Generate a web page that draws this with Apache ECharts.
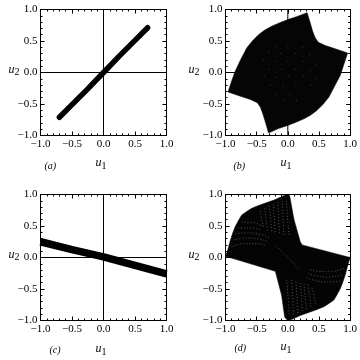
<!DOCTYPE html>
<html><head><meta charset="utf-8">
<style>html,body{margin:0;padding:0;background:#fff}#c{width:360px;height:360px}</style>
<script src="https://cdn.jsdelivr.net/npm/echarts@6/dist/echarts.min.js"></script>
</head><body><div id="c"></div>
<script>
const tickLabels = [-1.0, -0.5, 0.0, 0.5, 1.0];
const panelLetters = ['(a)', '(b)', '(c)', '(d)'];

const bandA = [[-0.7,-0.71],[-0.5,-0.51],[-0.25,-0.26],[0,0],[0.25,0.26],[0.5,0.51],[0.7,0.71]];
const bandC = [[-1,0.25],[-0.5,0.125],[0,0.01],[0.5,-0.125],[1,-0.26]];

const outlineB = [[-0.96,-0.31],[-0.9,-0.13],[-0.845,0.02],[-0.76,0.2],[-0.66,0.39],[-0.57,0.5],[-0.47,0.6],[-0.37,0.675],[-0.26,0.735],[-0.13,0.79],[0,0.84],[0.15,0.89],
  [0.31,0.95],[0.35,0.82],[0.4,0.65],[0.44,0.55],[0.49,0.48],[0.6,0.43],[0.75,0.38],[0.96,0.31],
  [0.9,0.13],[0.845,-0.04],[0.76,-0.2],[0.66,-0.39],[0.57,-0.5],[0.47,-0.6],[0.37,-0.675],[0.26,-0.735],[0.13,-0.79],[0,-0.84],[-0.15,-0.89],
  [-0.31,-0.96],[-0.35,-0.82],[-0.4,-0.66],[-0.44,-0.55],[-0.49,-0.48],[-0.6,-0.43],[-0.75,-0.38]];
const specksB = [[-0.4,0.2],[-0.3,0.32],[-0.3,0.05],[-0.2,0.42],[-0.2,0.18],[-0.2,-0.08],[-0.12,0.3],[-0.1,0.05],[-0.08,-0.22],
  [0,0.42],[0,0.18],[0.02,-0.06],[0.03,-0.34],[0.12,0.3],[0.12,0.05],[0.13,-0.2],[0.14,-0.45],[0.24,0.4],[0.24,0.18],[0.25,-0.06],
  [0.26,-0.32],[0.35,0.28],[0.36,0.04],[0.37,-0.2],[-0.28,-0.2],[-0.18,-0.35],[-0.38,-0.05],[0.45,0.12],[0.46,-0.1],[-0.05,-0.45]];

const outlineD = [[-1,0.02],[-0.97,0.1],[-0.92,0.28],[-0.88,0.4],[-0.845,0.49],[-0.79,0.59],[-0.74,0.675],[-0.66,0.73],[-0.58,0.78],[-0.47,0.825],[-0.37,0.86],[-0.2,0.92],[-0.05,0.99],[0,1],
  [0.03,0.98],[0.1,0.6],[0.2,0.25],[0.23,0.2],[1,0],
  [0.97,-0.1],[0.92,-0.28],[0.88,-0.4],[0.845,-0.49],[0.79,-0.59],[0.74,-0.675],[0.66,-0.73],[0.58,-0.78],[0.47,-0.825],[0.37,-0.86],[0.2,-0.92],[0.05,-0.99],[0,-1],
  [-0.05,-0.95],[-0.1,-0.6],[-0.2,-0.22]];
const meshD = [
  [[-0.9,0.17],[-0.7,0.22],[-0.5,0.22],[-0.35,0.19]],
  [[-0.87,0.28],[-0.65,0.31],[-0.45,0.29],[-0.32,0.25]],
  [[-0.84,0.38],[-0.62,0.39],[-0.42,0.36],[-0.3,0.32]],
  [[-0.8,0.47],[-0.6,0.47],[-0.42,0.43]],
  [[-0.74,0.56],[-0.55,0.55],[-0.4,0.5]],
  [[-0.44,0.74],[-0.42,0.6],[-0.38,0.46]],
  [[-0.37,0.78],[-0.35,0.62],[-0.32,0.42]],
  [[-0.3,0.82],[-0.28,0.65],[-0.26,0.4]],
  [[-0.23,0.85],[-0.22,0.65],[-0.2,0.38]],
  [[-0.16,0.88],[-0.15,0.68],[-0.13,0.36]],
  [[-0.09,0.9],[-0.08,0.68],[-0.06,0.34]],
  [[-0.02,0.9],[-0.01,0.7],[0.02,0.36]],
  [[-0.18,0.18],[-0.1,0.1],[0,0],[0.1,-0.1],[0.18,-0.18]],
  [[0.9,-0.17],[0.7,-0.22],[0.5,-0.22],[0.35,-0.19]],
  [[0.87,-0.28],[0.65,-0.31],[0.45,-0.29],[0.32,-0.25]],
  [[0.84,-0.38],[0.62,-0.39],[0.42,-0.36],[0.3,-0.32]],
  [[0.44,-0.74],[0.42,-0.6],[0.38,-0.46]],
  [[0.37,-0.78],[0.35,-0.62],[0.32,-0.42]],
  [[0.3,-0.82],[0.28,-0.65],[0.26,-0.4]],
  [[0.23,-0.85],[0.22,-0.65],[0.2,-0.38]],
  [[0.16,-0.88],[0.15,-0.68],[0.13,-0.36]],
  [[0.09,-0.9],[0.08,-0.68],[0.06,-0.34]],
  [[0.02,-0.9],[0.01,-0.7],[-0.02,-0.36]]
];

const FONT = '"Liberation Serif","Times New Roman",serif';
const frames = [
  {left:40.5,top:9.5,letter:4,ux:55,ly:161,uy:157},{left:225.5,top:9.5,letter:8,ux:55,ly:161,uy:157},
  {left:40.5,top:194.5,letter:9,ux:55,ly:345,uy:343},{left:225.5,top:194.5,letter:9,ux:55,ly:343,uy:341}
];
const SIZE = 126;
const grid=[],xAxis=[],yAxis=[],series=[],graphic=[];
function axisBase(i,pos,labels){
  return {type:'value',gridIndex:i,min:-1,max:1,interval:0.5,position:pos,
    axisLine:{onZero:false,lineStyle:{color:'#000',width:1}},
    axisTick:{inside:true,length:4,lineStyle:{color:'#000',width:1}},
    minorTick:{show:true,splitNumber:5,length:2,lineStyle:{color:'#000',width:1}},
    splitLine:{show:false},
    axisLabel:{show:labels,margin:3,color:'#000',fontFamily:FONT,fontSize:11,hideOverlap:false,
      showMinLabel:true,showMaxLabel:true,
      formatter:v=>{const t=tickLabels.find(k=>Math.abs(k-v)<1e-6);return (t<0?'\u2212':'')+Math.abs(t).toFixed(1);}}};
}
const rich={i:{fontFamily:FONT,fontStyle:'italic',fontSize:12,fill:'#000'},s:{fontFamily:FONT,fontSize:10,fill:'#000',padding:[6,0,0,0]}};
frames.forEach((f,i)=>{
  grid.push({left:f.left,top:f.top,width:SIZE,height:SIZE,containLabel:false});
  xAxis.push(axisBase(i,'bottom',true),axisBase(i,'top',false));
  yAxis.push(axisBase(i,'left',true),axisBase(i,'right',false));
  const ax=i*2, ay=i*2;
  series.push({type:'line',xAxisIndex:ax,yAxisIndex:ay,data:[[-1,0],[1,0]],symbol:'none',silent:true,lineStyle:{color:'#000',width:1},z:1});
  series.push({type:'line',xAxisIndex:ax,yAxisIndex:ay,data:[[0,-1],[0,1]],symbol:'none',silent:true,lineStyle:{color:'#000',width:1},z:1});
  const L=f.left;
  graphic.push({type:'text',left:L+f.ux,top:f.uy,style:{text:'{i|u}{s|1}',rich}});
  graphic.push({type:'text',left:i%2?L-37:L-32,top:f.top+54,style:{text:'{i|u}{s|2}',rich}});
  graphic.push({type:'text',left:L+f.letter,top:f.ly,style:{text:panelLetters[i],fontFamily:FONT,fontStyle:'italic',fontSize:10,fill:'#000'}});
});
function polygon(idx,pts,color){
  series.push({type:'custom',xAxisIndex:idx*2,yAxisIndex:idx*2,coordinateSystem:'cartesian2d',silent:true,z:3,
    data:[{value:[0,0]}],encode:{x:0,y:1},clip:true,
    renderItem:(p,api)=>({type:'polygon',shape:{points:pts.map(q=>api.coord(q))},style:{fill:color,stroke:color,lineWidth:0.5}})});
}
series.push({type:'line',xAxisIndex:0,yAxisIndex:0,data:bandA,symbol:'none',z:3,silent:true,lineStyle:{color:'#000',width:5.5,cap:'round'}});
series.push({type:'line',xAxisIndex:4,yAxisIndex:4,data:bandC,symbol:'none',z:3,silent:true,lineStyle:{color:'#000',width:7.5,cap:'butt'}});
polygon(1,outlineB,'#050505');
series.push({type:'scatter',xAxisIndex:2,yAxisIndex:2,data:specksB,symbol:'rect',symbolSize:1,silent:true,z:4,itemStyle:{color:'#4a4a4a'}});
polygon(3,outlineD,'#040404');
meshD.forEach(m=>series.push({type:'line',xAxisIndex:6,yAxisIndex:6,data:m,smooth:true,symbol:'none',silent:true,z:4,
  lineStyle:{color:'#666',width:0.8,type:[1,2]}}));
const chart=echarts.init(document.getElementById('c'),null,{renderer:'canvas'});
chart.setOption({animation:false,backgroundColor:'#fff',grid,xAxis,yAxis,series,graphic});
</script></body></html>
